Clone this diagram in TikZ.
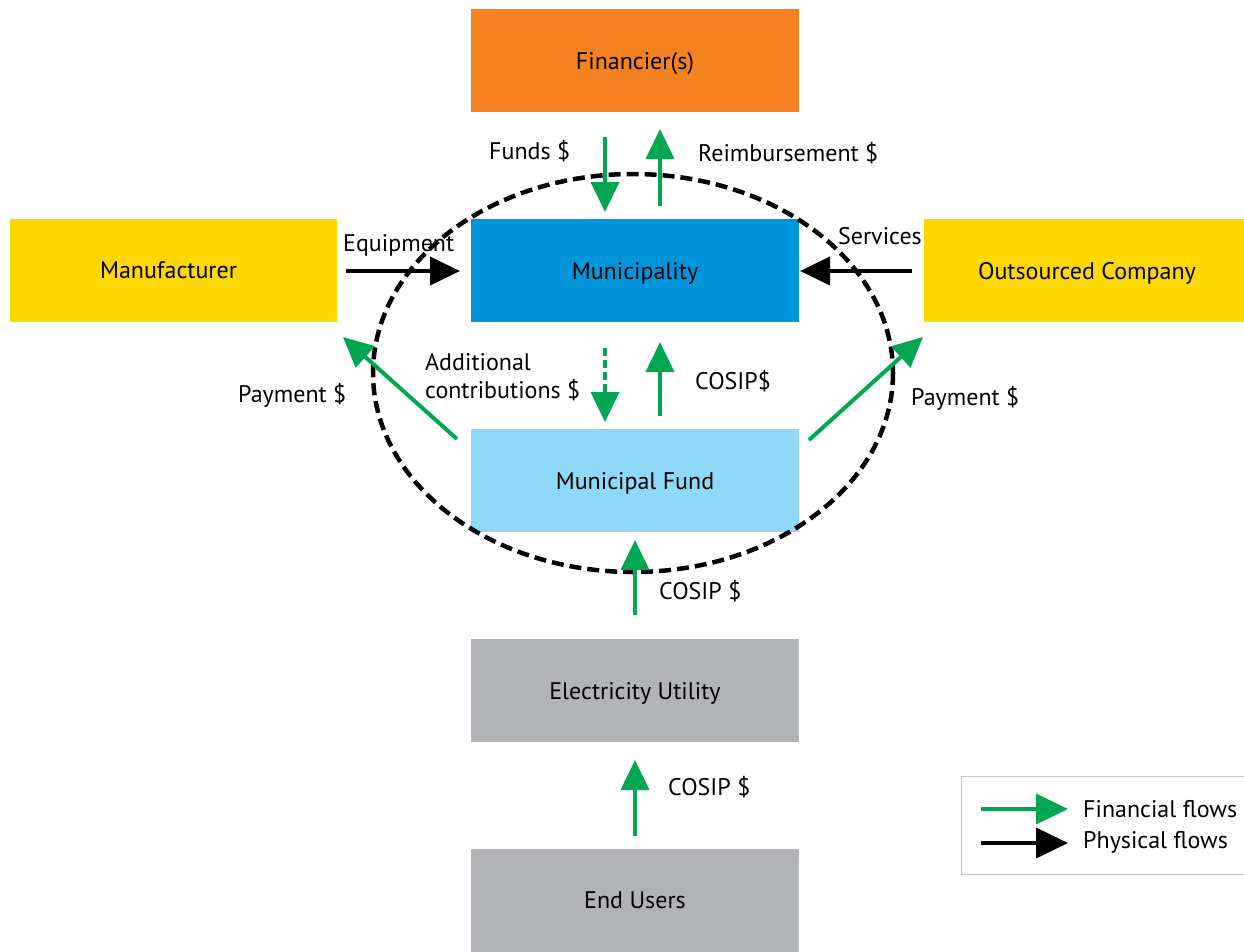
\documentclass[tikz,border=0pt]{standalone}
\usepackage{fontspec}
\setmainfont{PT Sans}
\usetikzlibrary{arrows.meta}
\definecolor{orangeF}{HTML}{F58220}
\definecolor{yellowF}{HTML}{FFD800}
\definecolor{blueF}{HTML}{0095DA}
\definecolor{lblueF}{HTML}{8ED8F8}
\definecolor{grayF}{HTML}{B1B3B6}
\definecolor{greenF}{HTML}{00A651}
\tikzset{
  box/.style={draw=none,minimum width=328pt,minimum height=103pt,inner sep=0pt,text depth=0pt,font=\fontsize{24}{28}\selectfont},
  lbl/.style={inner sep=0pt,font=\fontsize{24}{28}\selectfont},
  fin/.style={draw=greenF,line width=4pt,-{Triangle[width=28pt,length=30pt]}},
  phys/.style={draw=black,line width=4pt,-{Triangle[width=28pt,length=30pt]}},
}
\begin{document}
\begin{tikzpicture}[x=1pt,y=-1pt]
\useasboundingbox (0,0) rectangle (1244,951);
% boxes
\node[box,fill=orangeF] (fin) at (635,60.5) {Financier(s)};
\node[box,fill=yellowF,minimum width=327pt] (man) at (173.5,270.5) {Manufacturer\hspace*{10pt}};
\node[box,fill=blueF] (mun) at (635,270.5) {Municipality};
\node[box,fill=yellowF,minimum width=320pt] (out) at (1084,270.5) {\hspace*{6pt}Outsourced Company};
\node[box,fill=lblueF] (fund) at (635,480.5) {Municipal Fund};
\node[box,fill=grayF] (util) at (635,690.5) {Electricity Utility};
\node[box,fill=grayF] (users) at (635,900.5) {End Users};
% ellipse
\draw[line width=4.5pt,dash pattern=on 12pt off 6pt] (633,373) ellipse [x radius=260, y radius=199];
% coordinates
\coordinate (fundsS) at (605,137); \coordinate (fundsE) at (605,212);
\coordinate (reimS) at (660,206); \coordinate (reimE) at (660,129);
\coordinate (eqS) at (346,271); \coordinate (eqE) at (460,271);
\coordinate (svS) at (912,271); \coordinate (svE) at (800,271);
\coordinate (addS) at (605,348); \coordinate (addE) at (605,422);
\coordinate (cosA) at (660,416); \coordinate (cosB) at (660,342);
\coordinate (payLS) at (457,439); \coordinate (payLE) at (343,337);
\coordinate (payRS) at (809,440); \coordinate (payRE) at (923,337);
\coordinate (cfS) at (635,615); \coordinate (cfE) at (635,540);
\coordinate (cuS) at (635,836); \coordinate (cuE) at (635,760);
% arrows
\draw[fin] (fundsS) -- (fundsE);
\draw[fin] (reimS) -- (reimE);
\draw[phys] (eqS) -- (eqE);
\draw[phys] (svS) -- (svE);
\draw[fin,dash pattern=on 8pt off 4pt] (addS) -- (addE);
\draw[fin] (cosA) -- (cosB);
\draw[fin] (payLS) -- (payLE);
\draw[fin] (payRS) -- (payRE);
\draw[fin] (cfS) -- (cfE);
\draw[fin] (cuS) -- (cuE);
% labels
\node[lbl,anchor=west] (lfunds) at (489,151) {Funds \$};
\node[lbl,anchor=west] (lreim) at (698,153) {Reimbursement \$};
\node[lbl,anchor=west] (leq) at (343,245) {Equipment};
\node[lbl,anchor=east] (lsv) at (922,236) {Services};
\node[lbl,anchor=west,align=left] (ladd) at (425,377) {Additional\\contributions \$};
\node[lbl,anchor=west] (lcos1) at (695,381) {COSIP\$};
\node[lbl,anchor=west] (lpayL) at (238,395) {Payment \$};
\node[lbl,anchor=west] (lpayR) at (911,398) {Payment \$};
\node[lbl,anchor=west] (lcos2) at (659,591) {COSIP \$};
\node[lbl,anchor=west] (lcos3) at (668,787) {COSIP \$};
% legend
\node[draw={rgb,255:red,200;green,200;blue,200},line width=1pt,minimum width=283pt,minimum height=98pt,inner sep=0pt] (leg) at (1102.5,825) {};
\coordinate (lg1S) at (981,809); \coordinate (lg1E) at (1068,809);
\coordinate (lg2S) at (981,843); \coordinate (lg2E) at (1068,843);
\draw[fin,-{Triangle[width=30pt,length=32pt]}] (lg1S) -- (lg1E);
\draw[phys,-{Triangle[width=30pt,length=32pt]}] (lg2S) -- (lg2E);
\node[lbl,anchor=west] (lfin) at (1083,809) {Financial flows};
\node[lbl,anchor=west] (lphys) at (1083,842) {Physical flows};
\end{tikzpicture}
\end{document}
